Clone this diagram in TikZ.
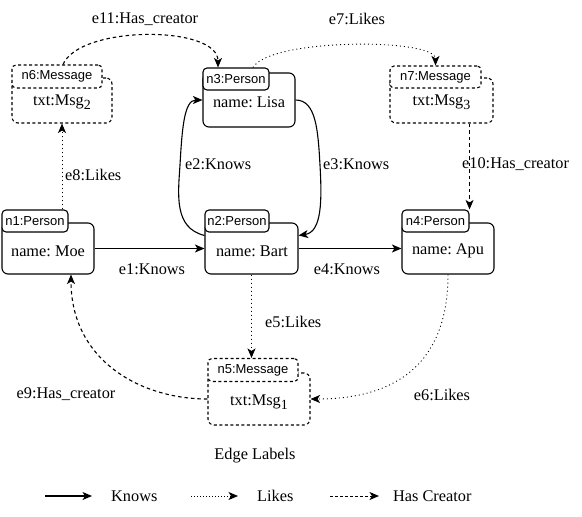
\documentclass[tikz,border=0pt]{standalone}
\usepackage{fontspec}
\setmainfont{Liberation Serif}
\newfontfamily\hdrfont{Liberation Sans}
\usetikzlibrary{arrows.meta}
\newcommand\subtwo[1]{\raisebox{-3.5pt}{\fontsize{14}{14}\selectfont #1}}
\frenchspacing
\begin{document}
\begin{tikzpicture}[x=1pt,y=-1pt,
  mainbox/.style={draw, line width=1.1pt, rounded corners=6pt, inner sep=0pt},
  msgbox/.style={mainbox, dash pattern=on 3pt off 2.5pt},
  hdrbox/.style={draw, fill=white, line width=1.1pt, rounded corners=4pt, inner sep=0pt, font=\hdrfont\fontsize{13}{15}\selectfont},
  msghdr/.style={hdrbox, dash pattern=on 3pt off 2.5pt},
  lbl/.style={inner sep=0pt, font=\fontsize{16.3}{19}\selectfont},
  tip/.style={-{Stealth[length=9.5pt,width=8pt,inset=2.5pt]}},
  knows/.style={line width=1.1pt, tip},
  likes/.style={line width=0.9pt, dash pattern=on 1pt off 3pt, tip},
  hascr/.style={line width=1.1pt, dash pattern=on 3.5pt off 3pt, tip}]
\useasboundingbox (0,0) rectangle (582,517);

% person boxes
\node[mainbox, minimum width=92pt, minimum height=51pt] (n1) at (48,248.5) {};
\node[hdrbox, minimum width=66pt, minimum height=22pt] (n1h) at (35,221) {n1:Person};
\node[lbl] (n1t) at (48,251) {name: Moe};

\node[mainbox, minimum width=93pt, minimum height=51pt] (n2) at (251.5,248.5) {};
\node[hdrbox, minimum width=64pt, minimum height=22pt] (n2h) at (237,221) {n2:Person};
\node[lbl] (n2t) at (252,251) {name: Bart};

\node[mainbox, minimum width=92pt, minimum height=51pt] (n4) at (448,248.5) {};
\node[hdrbox, minimum width=67pt, minimum height=22pt] (n4h) at (435.5,221) {n4:Person};
\node[lbl] (n4t) at (448,251) {name: Apu};

\node[mainbox, minimum width=92pt, minimum height=54pt] (n3) at (249,100) {};
\node[hdrbox, minimum width=66pt, minimum height=22pt] (n3h) at (236,79) {n3:Person};
\node[lbl] (n3t) at (249,102) {name: Lisa};

% message boxes
\node[msgbox, minimum width=100pt, minimum height=45pt] (n6) at (62,100.5) {};
\node[msghdr, minimum width=90pt, minimum height=23pt] (n6h) at (57,76.5) {n6:Message};
\node[lbl] (n6t) at (62,102) {txt:Msg\subtwo{2}};

\node[msgbox, minimum width=103pt, minimum height=45pt] (n7) at (441.5,100.5) {};
\node[msghdr, minimum width=91pt, minimum height=22pt] (n7h) at (435.5,77) {n7:Message};
\node[lbl] (n7t) at (441.5,102) {txt:Msg\subtwo{3}};

\node[msgbox, minimum width=102pt, minimum height=52pt] (n5) at (259,399) {};
\node[msghdr, minimum width=90pt, minimum height=23pt] (n5h) at (253,370) {n5:Message};
\node[lbl] (n5t) at (259,402) {txt:Msg\subtwo{1}};

% edges
\draw[knows] (n1.east) -- (n2.west);
\draw[knows] (n2.east) -- (n4.west);
\draw[knows] ([yshift=-13pt]n2.north west) .. controls (174,228) and (178,195) .. (180,165)
   .. controls (182,130) and (184,100) .. (n3.west);
\draw[knows] (n3.east) .. controls (316,100) and (318,130) .. (320,165)
   .. controls (322,200) and (322,232) .. ([yshift=-13pt]n2.north east);
\draw[likes] ([xshift=17pt]n3h.north) .. controls (270,38) and (435.5,38) .. (n7h.north);
\draw[hascr] ([xshift=6pt]n6h.north) .. controls (80,25) and (218,25) .. ([xshift=-18pt]n3h.north);
\draw[likes] (n6.south |- n1h.north) -- (n6.south);
\draw[hascr] (n7.south -| n4h.north east) -- (n4h.north east);
\draw[likes] (n2.south) -- (n2.south |- n5h.north);
\draw[likes] (n4.south) .. controls (448,360) and (400,399) .. (n5.east);
\draw[hascr] (n5.west) .. controls (140,399) and (71,360) .. ([xshift=23pt]n1.south);

% edge labels
\node[lbl] (l11) at (145,19) {e11:Has\_creator};
\node[lbl] (l7) at (357,19) {e7:Likes};
\node[lbl, anchor=west] (l2) at (185,164) {e2:Knows};
\node[lbl, anchor=west] (l3) at (323,164) {e3:Knows};
\node[lbl, anchor=west] (l8) at (65,175) {e8:Likes};
\node[lbl, anchor=west] (l10) at (462,164) {e10:Has\_creator};
\node[lbl] (l1) at (152,269) {e1:Knows};
\node[lbl] (l4) at (347,269) {e4:Knows};
\node[lbl, anchor=west] (l5) at (265,322) {e5:Likes};
\node[lbl] (l9) at (66,394) {e9:Has\_creator};
\node[lbl] (l6) at (442,395) {e6:Likes};

% legend
\node[lbl] (leg) at (255,456) {Edge Labels};
\coordinate (k1) at (45,496); \coordinate (k2) at (92,496);
\coordinate (li1) at (191,496); \coordinate (li2) at (238,496);
\coordinate (h1) at (330,496); \coordinate (h2) at (379,496);
\draw[knows] (k1) -- (k2);
\draw[likes, line width=0.8pt, dash pattern=on 1pt off 2pt] (li1) -- (li2);
\draw[hascr, line width=0.9pt, dash pattern=on 3pt off 2pt] (h1) -- (h2);
\node[lbl, anchor=west] (lk) at (111,496) {Knows};
\node[lbl, anchor=west] (ll) at (257,496) {Likes};
\node[lbl, anchor=west] (lh) at (393,496) {Has Creator};
\end{tikzpicture}
\end{document}
